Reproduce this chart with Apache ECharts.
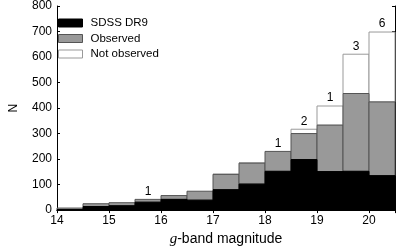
<!DOCTYPE html>
<html>
<head>
<meta charset="utf-8">
<script src="https://cdn.jsdelivr.net/npm/echarts@6/dist/echarts.min.js"></script>
<style>html,body{margin:0;padding:0;background:#fff}#c{width:399px;height:252px}</style>
</head>
<body>
<div id="c"></div>
<script>
// bin lower edges (width 0.5)
const binStart = [14, 14.5, 15, 15.5, 16, 16.5, 17, 17.5, 18, 18.5, 19, 19.5, 20];
const binWidth = 0.5;
const sdssDR9 = [2, 14, 17, 31, 42, 39, 80, 102, 152, 198, 151, 152, 135];
const observed = [6, 11, 12, 11, 15, 35, 60, 82, 78, 102, 182, 305, 289];
const notObserved = [0, 0, 0, 0, 0, 0, 1, 1, 0, 17, 75, 154, 274];
const annotations = ['', '', '', '1', '', '', '', '', '1', '2', '1', '3', '6'];
const yTicks = [0, 100, 200, 300, 400, 500, 600, 700, 800];
const xTicks = [14, 15, 16, 17, 18, 19, 20];

const FONT = 'Liberation Sans, Arial, Helvetica, sans-serif';

function stackData(values, below) {
  return binStart.map((x0, i) => {
    const lo = below.reduce((s, arr) => s + arr[i], 0);
    return [x0, x0 + binWidth, lo, lo + values[i]];
  });
}

function rectRender(fill, stroke) {
  return function (params, api) {
    const p0 = api.coord([api.value(0), api.value(2)]);
    const p1 = api.coord([api.value(1), api.value(3)]);
    if (api.value(3) - api.value(2) <= 0) return null;
    return {
      type: 'rect',
      shape: { x: p0[0], y: p1[1], width: p1[0] - p0[0], height: p0[1] - p1[1] },
      style: { fill: fill, stroke: stroke, lineWidth: 1 }
    };
  };
}

const totals = binStart.map((x0, i) => [x0 + binWidth / 2, sdssDR9[i] + observed[i] + notObserved[i], annotations[i]]);

const chart = echarts.init(document.getElementById('c'), null, { renderer: 'canvas' });
chart.setOption({
  animation: false,
  backgroundColor: '#fff',
  grid: { left: 43, right: 4, top: 6, bottom: 36, containLabel: false },
  legend: {
    orient: 'vertical', left: 53, top: 12,
    itemWidth: 24, itemHeight: 8, itemGap: 3.5,
    icon: 'rect',
    textStyle: { fontFamily: FONT, fontSize: 11.5, color: '#000', padding: [0, 0, 0, 3] },
    data: [
      { name: 'SDSS DR9', itemStyle: { color: '#000', borderColor: '#000', borderWidth: 1 } },
      { name: 'Observed', itemStyle: { color: '#999', borderColor: '#555', borderWidth: 1 } },
      { name: 'Not observed', itemStyle: { color: '#fff', borderColor: '#999', borderWidth: 1 } }
    ]
  },
  xAxis: [{
    type: 'value', min: 14, max: 20.5, interval: 1,
    name: '{i|g}-band magnitude', nameLocation: 'middle', nameGap: 15,
    nameTextStyle: { fontFamily: FONT, fontSize: 14, color: '#000',
      rich: { i: { fontFamily: 'Liberation Serif, Times New Roman, serif', fontStyle: 'italic', fontSize: 15, color: '#000' } } },
    axisLine: { show: true, lineStyle: { color: '#000', width: 1 } },
    axisTick: { show: true, inside: true, length: 3, lineStyle: { color: '#000' } },
    axisLabel: { fontFamily: FONT, fontSize: 12, color: '#000', margin: 5,
      formatter: v => xTicks.indexOf(v) >= 0 ? String(v) : '' },
    splitLine: { show: false }
  }, {
    type: 'value', min: 14, max: 20.5, interval: 1, position: 'top',
    axisLine: { show: true, lineStyle: { color: '#000', width: 1 } },
    axisTick: { show: true, inside: true, length: 3, lineStyle: { color: '#000' } },
    axisLabel: { show: false }, splitLine: { show: false }
  }],
  yAxis: [{
    type: 'value', min: 0, max: 800, interval: 100,
    name: 'N', nameLocation: 'middle', nameGap: 37, nameRotate: 90,
    nameTextStyle: { fontFamily: FONT, fontSize: 12, color: '#000' },
    axisLine: { show: true, lineStyle: { color: '#000', width: 1 } },
    axisTick: { show: true, inside: true, length: 3, lineStyle: { color: '#000' } },
    axisLabel: { fontFamily: FONT, fontSize: 12, color: '#000', margin: 5,
      formatter: v => yTicks.indexOf(v) >= 0 ? String(v) : '' },
    splitLine: { show: false }
  }, {
    type: 'value', min: 0, max: 800, interval: 100, position: 'right',
    axisLine: { show: true, lineStyle: { color: '#000', width: 1 } },
    axisTick: { show: true, inside: true, length: 3, lineStyle: { color: '#000' } },
    axisLabel: { show: false }, splitLine: { show: false }
  }],
  series: [
    { name: 'SDSS DR9', type: 'custom', renderItem: rectRender('#000', '#000'),
      itemStyle: { color: '#000' },
      encode: { x: [0, 1], y: [2, 3] }, data: stackData(sdssDR9, []), z: 3 },
    { name: 'Observed', type: 'custom', renderItem: rectRender('#999', '#555'),
      itemStyle: { color: '#999' },
      encode: { x: [0, 1], y: [2, 3] }, data: stackData(observed, [sdssDR9]), z: 2 },
    { name: 'Not observed', type: 'custom', renderItem: rectRender('#fff', '#999'),
      itemStyle: { color: '#fff' },
      encode: { x: [0, 1], y: [2, 3] }, data: stackData(notObserved, [sdssDR9, observed]), z: 1 },
    { name: 'ann', type: 'custom',
      renderItem: function (params, api) {
        const txt = totals[params.dataIndex][2];
        if (!txt) return null;
        const p = api.coord([api.value(0), api.value(1)]);
        return { type: 'text', x: p[0], y: p[1] - 8,
          style: { text: txt, fontFamily: FONT, fontSize: 12, fill: '#000', align: 'center', verticalAlign: 'middle' } };
      },
      encode: { x: 0, y: 1 }, data: totals, z: 5 }
  ]
});
</script>
</body>
</html>
